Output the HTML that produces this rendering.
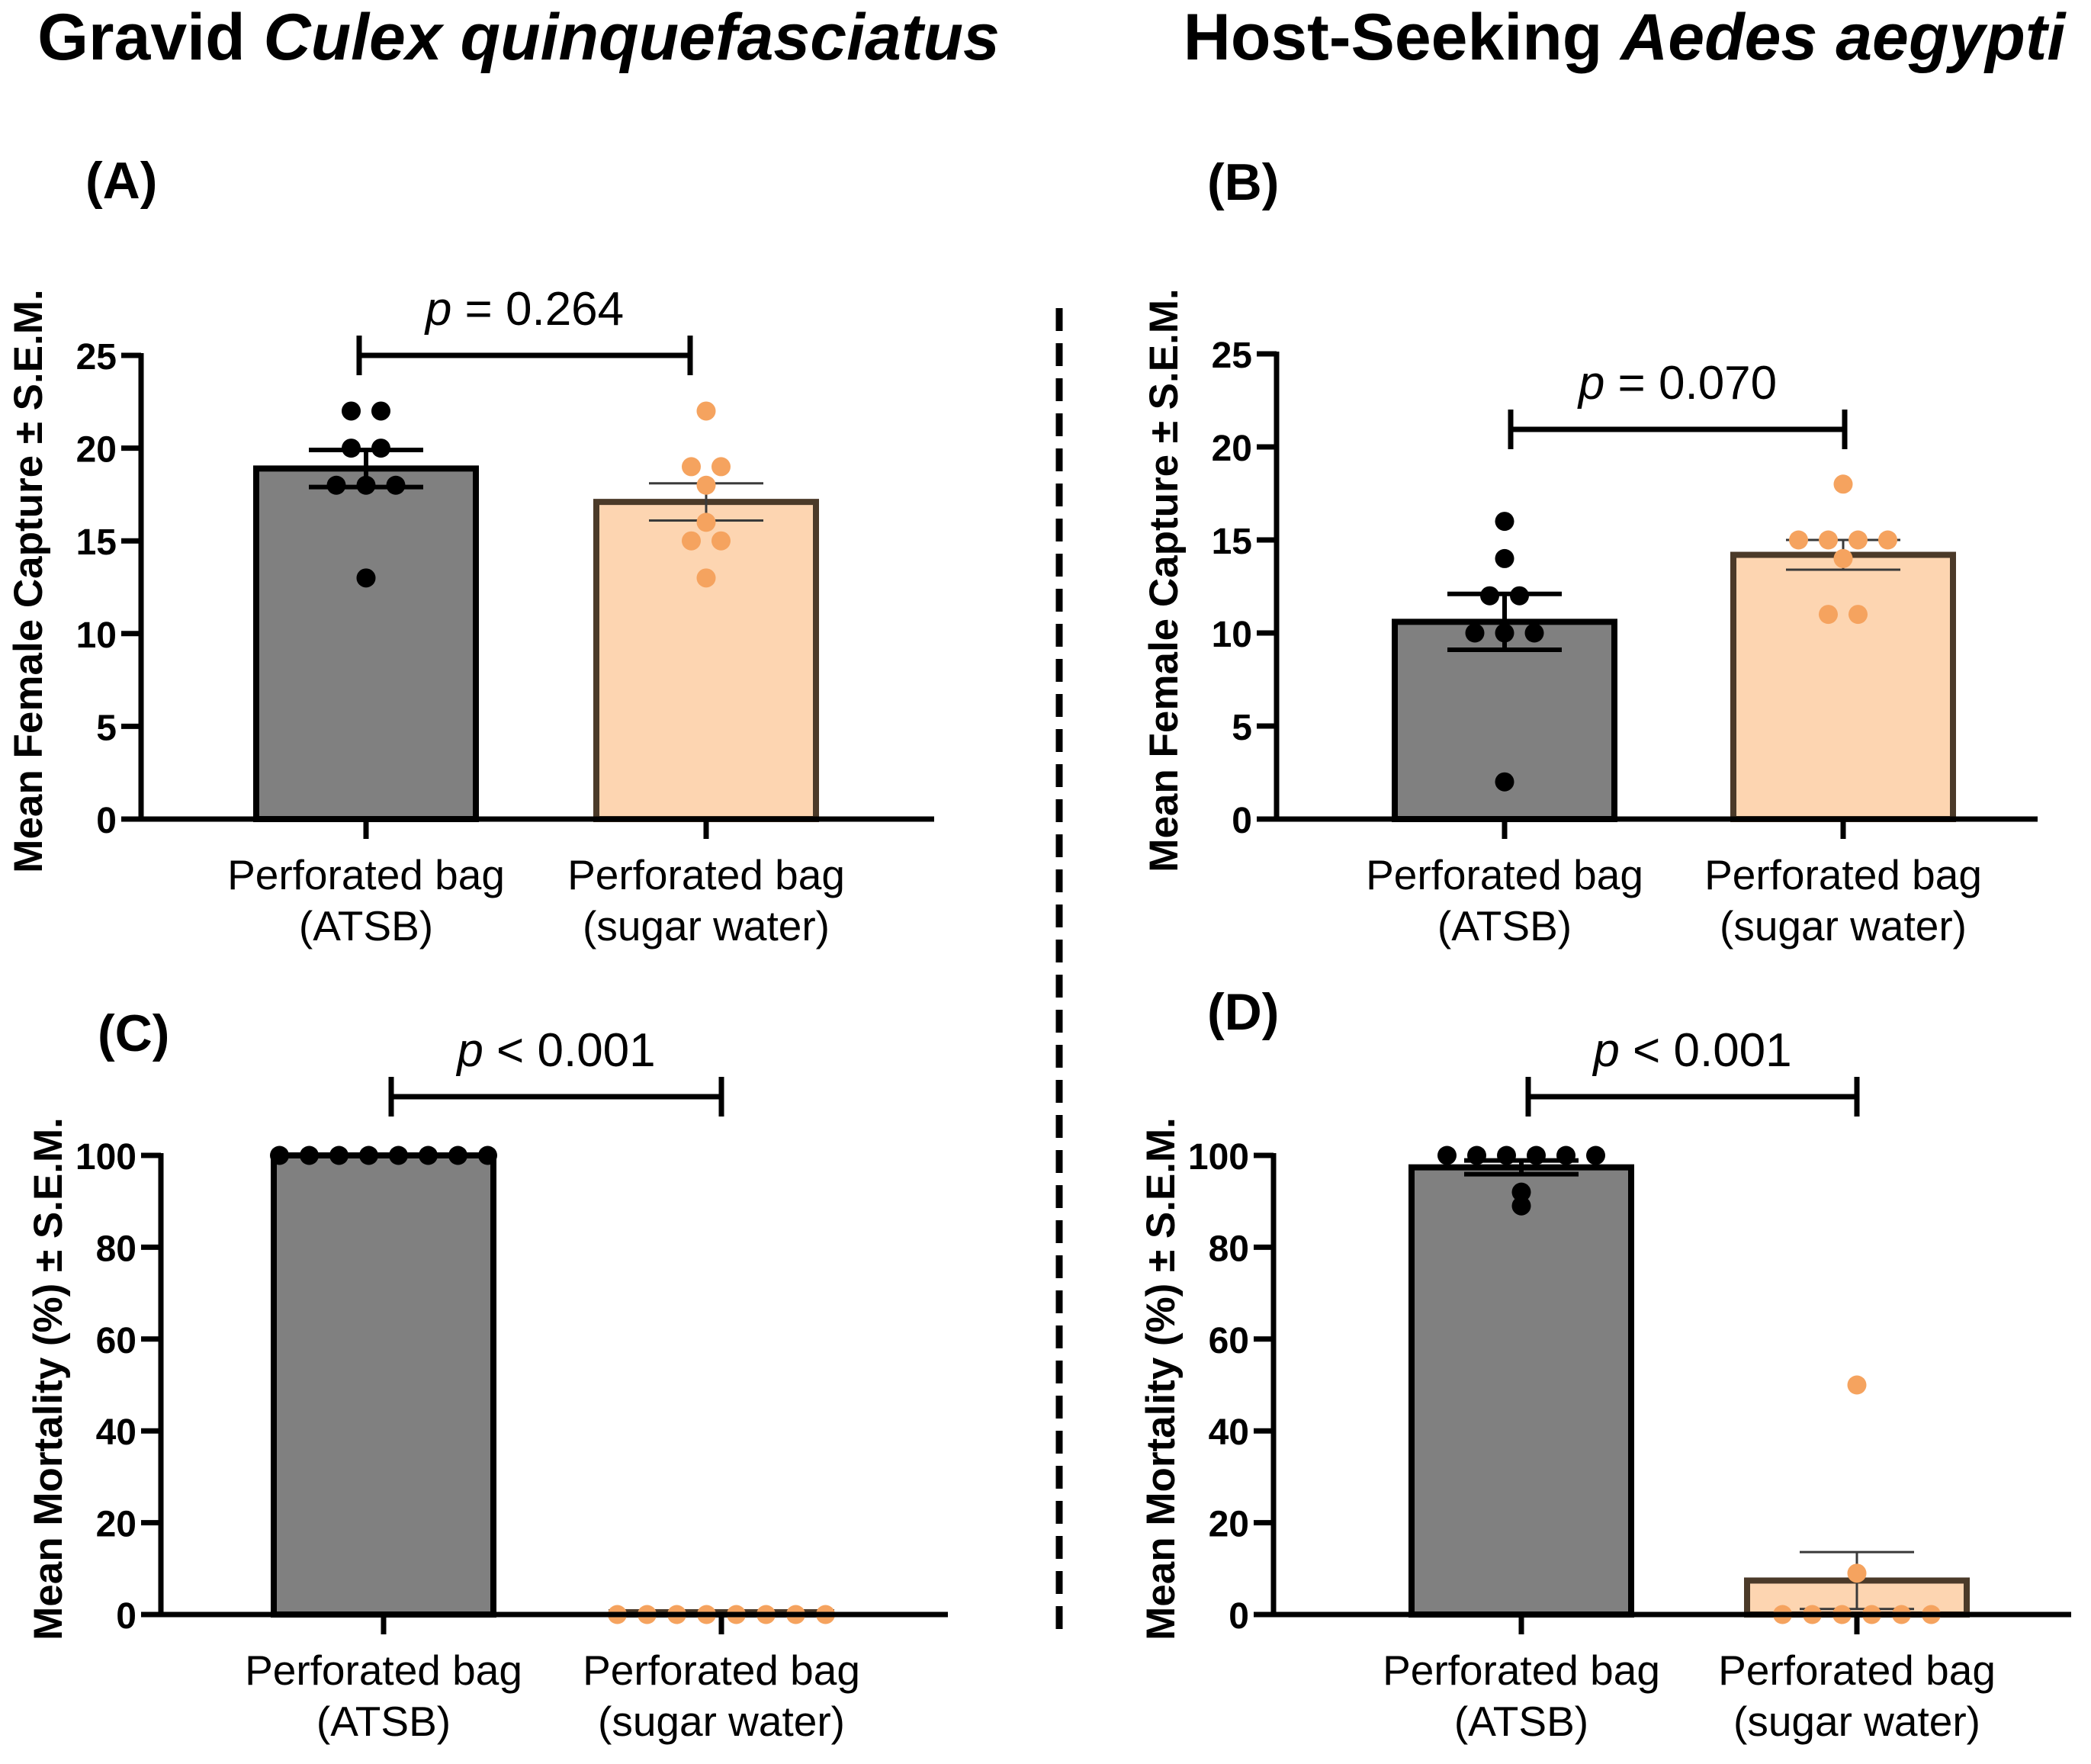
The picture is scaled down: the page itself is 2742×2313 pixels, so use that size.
<!DOCTYPE html>
<html><head><meta charset="utf-8"><style>
body{margin:0;background:#fff}
svg text{font-family:"Liberation Sans",sans-serif}
</style></head><body>
<svg id="fig" width="2742" height="2308" viewBox="0 0 2742 2308" xmlns="http://www.w3.org/2000/svg">
<text x="680" y="78" text-anchor="middle" font-size="86" font-weight="bold">Gravid <tspan font-style="italic">Culex quinquefasciatus</tspan></text>
<text x="2130" y="78" text-anchor="middle" font-size="86" font-weight="bold">Host-Seeking <tspan font-style="italic">Aedes aegypti</tspan></text>
<line x1="1389" y1="404" x2="1389" y2="2136" stroke="#000" stroke-width="9" stroke-dasharray="30,16"/>
<g id="charts"></g>
</svg>
<script>
const categories = ["Perforated bag|(ATSB)", "Perforated bag|(sugar water)"];
const aMeans = [18.9, 17.1];
const aSems = [1.0, 1.0];
const aAtsb = [22, 22, 20, 20, 18, 18, 18, 13];
const aSugar = [22, 19, 19, 18, 16, 15, 15, 13];
const bMeans = [10.6, 14.2];
const bSems = [1.5, 0.8];
const bAtsb = [16, 14, 12, 12, 10, 10, 10, 2];
const bSugar = [18, 15, 15, 15, 15, 14, 11, 11];
const cMeans = [100, 0.5];
const cSems = [0, 0];
const cAtsb = [100, 100, 100, 100, 100, 100, 100, 100];
const cSugar = [0, 0, 0, 0, 0, 0, 0, 0];
const dMeans = [97.4, 7.4];
const dSems = [1.5, 6.2];
const dAtsb = [100, 100, 100, 100, 100, 100, 92, 89];
const dSugar = [50, 9, 0, 0, 0, 0, 0, 0];
const captureTicks = [0, 5, 10, 15, 20, 25];
const mortalityTicks = [0, 20, 40, 60, 80, 100];
const pLabels = ["0.264", "0.070", "< 0.001", "< 0.001"];

const NS = "http://www.w3.org/2000/svg";
const root = document.getElementById("charts");
function mk(tag, attrs, parent, txt){
  const e = document.createElementNS(NS, tag);
  for (const k in attrs) e.setAttribute(k, attrs[k]);
  if (txt !== undefined) e.textContent = txt;
  (parent || root).appendChild(e);
  return e;
}
function panel(cfg){
  const g = mk("g", {});
  
  
  const yScale = v => cfg.y0 - (v - cfg.ticks[0]) / (cfg.ticks[cfg.ticks.length-1] - cfg.ticks[0]) * (cfg.y0 - cfg.yTop);
  const lab = mk("text", {x: cfg.labX, y: cfg.labY, "font-size": 68, "font-weight": "bold"}, g, "(" + cfg.id.toUpperCase() + ")");
  
  
  const yt = mk("text", {x: 0, y: 0, transform: `translate(${cfg.ax-130},${(cfg.y0+cfg.yTop)/2-8}) rotate(-90)`, "text-anchor": "middle", "font-size": 53, "font-weight": "bold"}, g, cfg.yTitle);
  
  
  const xs = [cfg.c1, cfg.c2];
  const bw = 288;
  const fills = ["#808080", "#fdd5b1"];
  const strokes = ["#000", "#4b3a29"];
  const dotCol = ["#000", "#f5a35f"];
  const pts = [cfg.p1, cfg.p2];
  for (let i = 0; i < 2; i++) {
    const top = yScale(cfg.means[i]);
    const r = mk("rect", {x: xs[i]-bw/2, y: top, width: bw, height: cfg.y0-top, fill: fills[i], stroke: strokes[i], "stroke-width": 8}, g);
    
    
    if (cfg.sems[i] > 0) {
      const ew = i ? 3 : 6, col = i ? "#3a3a3a" : "#000";
      const hi = yScale(cfg.means[i] + cfg.sems[i]), lo = yScale(cfg.means[i] - cfg.sems[i]);
      const eg = mk("g", {stroke: col, "stroke-width": ew}, g);
      
      
      mk("line", {x1: xs[i], x2: xs[i], y1: hi, y2: lo}, eg);
      mk("line", {x1: xs[i]-75, x2: xs[i]+75, y1: hi, y2: hi}, eg);
      mk("line", {x1: xs[i]-75, x2: xs[i]+75, y1: lo, y2: lo}, eg);
    }
    const counts = {};
    pts[i].forEach(v => counts[v] = (counts[v] || 0) + 1);
    const seen = {};
    pts[i].forEach(v => {
      const n = counts[v], k = seen[v] = (seen[v] === undefined ? 0 : seen[v] + 1);
      const cx = xs[i] + (k - (n-1)/2) * 39;
      const d = mk("circle", {cx: cx, cy: yScale(v), r: 12.5, fill: dotCol[i]}, g);
      
      
    });
    const parts = categories[i].split("|");
    const t = mk("text", {x: xs[i], y: cfg.y0+92, "text-anchor": "middle", "font-size": 55}, g);
    
    
    mk("tspan", {x: xs[i], dy: 0}, t, parts[0]);
    mk("tspan", {x: xs[i], dy: 67}, t, parts[1]);
    mk("line", {x1: xs[i], x2: xs[i], y1: cfg.y0, y2: cfg.y0+26, stroke: "#000", "stroke-width": 7}, g);
  }
  const axg = mk("g", {stroke: "#000", "stroke-width": 7}, g);
  
  
  mk("line", {x1: cfg.ax, x2: cfg.ax, y1: cfg.yTop-3, y2: cfg.y0+3}, axg);
  mk("line", {x1: cfg.ax-3, x2: cfg.axEnd, y1: cfg.y0, y2: cfg.y0}, axg);
  cfg.ticks.forEach(tv => {
    const y = yScale(tv);
    mk("line", {x1: cfg.ax-26, x2: cfg.ax, y1: y, y2: y}, axg);
    const tl = mk("text", {x: cfg.ax-32, y: y+18, "text-anchor": "end", "font-size": 48, "font-weight": "bold"}, g, tv);
    
    
  });
  const sg = mk("g", {stroke: "#000", "stroke-width": 7}, g);
  
  
  mk("line", {x1: cfg.s1, x2: cfg.s2, y1: cfg.sy, y2: cfg.sy}, sg);
  mk("line", {x1: cfg.s1, x2: cfg.s1, y1: cfg.sy-26, y2: cfg.sy+26}, sg);
  mk("line", {x1: cfg.s2, x2: cfg.s2, y1: cfg.sy-26, y2: cfg.sy+26}, sg);
  const pt = mk("text", {x: (cfg.s1+cfg.s2)/2, y: cfg.sy-40, "text-anchor": "middle", "font-size": 62}, g);
  
  
  mk("tspan", {"font-style": "italic"}, pt, "p");
  mk("tspan", {}, pt, (cfg.pl.startsWith("<") ? " " : " = ") + cfg.pl);
}
panel({id:"a", labX:112, labY:260, ax:185, axEnd:1225, y0:1074, yTop:466, ticks:captureTicks, yTitle:"Mean Female Capture ± S.E.M.",
  c1:480, c2:926, means:aMeans, sems:aSems, p1:aAtsb, p2:aSugar, s1:471, s2:905, sy:466, pl:pLabels[0]});
panel({id:"b", labX:1583, labY:262, ax:1674, axEnd:2672, y0:1074, yTop:464, ticks:captureTicks, yTitle:"Mean Female Capture ± S.E.M.",
  c1:1973, c2:2417, means:bMeans, sems:bSems, p1:bAtsb, p2:bSugar, s1:1981, s2:2419, sy:563, pl:pLabels[1]});
panel({id:"c", labX:128, labY:1378, ax:211, axEnd:1243, y0:2117, yTop:1515, ticks:mortalityTicks, yTitle:"Mean Mortality (%) ± S.E.M.",
  c1:503, c2:946, means:cMeans, sems:cSems, p1:cAtsb, p2:cSugar, s1:513, s2:946, sy:1438, pl:pLabels[2]});
panel({id:"d", labX:1583, labY:1350, ax:1670, axEnd:2716, y0:2117, yTop:1515, ticks:mortalityTicks, yTitle:"Mean Mortality (%) ± S.E.M.",
  c1:1995, c2:2435, means:dMeans, sems:dSems, p1:dAtsb, p2:dSugar, s1:2004, s2:2435, sy:1438, pl:pLabels[3]});
</script>
</body></html>
